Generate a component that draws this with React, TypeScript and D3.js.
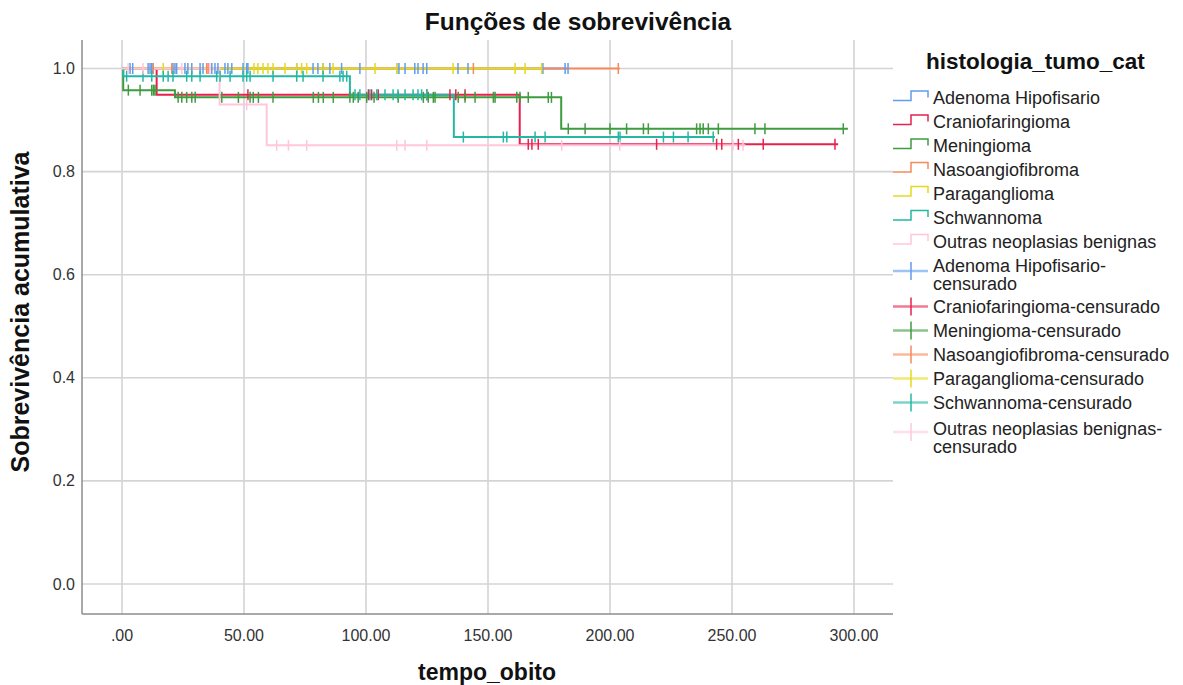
import React from "react";
import * as d3 from "d3";

const W = 1183;
const H = 685;

const xTicks = [0, 50, 100, 150, 200, 250, 300];
const xTickLabels = [".00", "50.00", "100.00", "150.00", "200.00", "250.00", "300.00"];
const yTicks = [0, 0.2, 0.4, 0.6, 0.8, 1.0];
const yTickLabels = ["0.0", "0.2", "0.4", "0.6", "0.8", "1.0"];

const groupNames = [
  "Adenoma Hipofisario",
  "Craniofaringioma",
  "Meningioma",
  "Nasoangiofibroma",
  "Paraganglioma",
  "Schwannoma",
  "Outras neoplasias benignas",
];
const groupColors = ["#5f9ded", "#e8204d", "#3f9b3f", "#f7895a", "#e6d91c", "#24b8a4", "#ffc6dc"];

// event (drop) times and survival level after each drop
const eventTimes = [[], [14.2, 163], [0.5, 21.7, 180], [], [], [0.5, 93.4, 136], [40, 59.3]];
const eventLevels = [[], [0.949, 0.853], [0.958, 0.944, 0.883], [], [], [0.985, 0.949, 0.867], [0.93, 0.851]];
const endTimes = [182.8, 293.5, 297.5, 204, 172.5, 243, 255.5];

const censorAdenoma = [3.3, 4.4, 10.7, 11.5, 12.2, 12.8, 20.9, 21.7, 22.4, 25.8, 27, 28.6, 32, 33.2, 36.8, 38.1, 39.3, 42.2, 43.4, 45, 49.6, 51.1, 51.6, 71.6, 78.3, 80.3, 82.4, 85.2, 90, 97.5, 112.6, 113.5, 116, 120, 121.3, 123.4, 124.9, 137.7, 141.8, 172.5, 181.6, 182.8];
const censorCranio = [51.6, 101, 102.3, 105, 124.9, 134.4, 136.8, 140.6, 166.5, 168, 170.6, 219.1, 243.7, 245.8, 252.6, 262.8, 292.2];
const censorMeningioma = [2.6, 7.4, 12.2, 12.9, 13.5, 23, 24.5, 26.5, 28.6, 30, 40.9, 47.7, 52.5, 53.8, 55.9, 61.9, 78.4, 80.5, 82.5, 86.6, 93.4, 94.8, 96.8, 100.3, 103.3, 113.2, 123.5, 125.5, 127.6, 128.3, 137.8, 140.6, 144.7, 152.2, 152.9, 161.8, 163.1, 166.5, 174.7, 176, 182.9, 189.8, 200, 206.8, 213.7, 215.7, 235.5, 236.9, 238.2, 240.3, 244.4, 259.4, 263.5, 295.6];
const censorNaso = [12.8, 20.4, 34.7, 35.3, 144, 203.4];
const censorParag = [16.9, 54.1, 55.7, 57.8, 59.8, 61.9, 66.8, 71.6, 73.6, 75.7, 82.4, 86.5, 103.7, 112.6, 135.7, 161.1, 165.2, 172];
const censorSchwann = [1.9, 8.6, 12.2, 16.9, 18.9, 20.9, 26.5, 28.6, 32, 38.8, 40.2, 44.3, 49.6, 51.1, 52.5, 61.9, 71.6, 74.2, 82.4, 89.3, 90.6, 92.1, 95.5, 97.5, 101.6, 104.4, 107.8, 111.1, 113.1, 116, 119.3, 121.3, 122.8, 124.9, 139.9, 156.3, 157.7, 169.3, 173.4, 203.4, 204.1, 221.9, 226, 232, 242.3];
const censorOutras = [2.5, 8.6, 24.5, 36, 51.1, 63.4, 68.2, 75.7, 112.6, 116, 124.9, 180.2, 204, 250.4, 254.5];
const censorTimes = [censorAdenoma, censorCranio, censorMeningioma, censorNaso, censorParag, censorSchwann, censorOutras];

const legendTitle = "histologia_tumo_cat";
const censorSuffix = "-censurado";

const FONT = "'Liberation Sans', Arial, sans-serif";

function levelAt(g: number, t: number): number {
  let s = 1;
  const ts = eventTimes[g];
  for (let i = 0; i < ts.length; i++) {
    if (t >= ts[i]) s = eventLevels[g][i];
  }
  return s;
}

export default function App() {
  const x = d3.scaleLinear().domain([0, 300]).range([122, 854]);
  const y = d3.scaleLinear().domain([0, 1]).range([584, 68.5]);
  const left = 82, right = 893, top = 40, bottom = 614;

  const line = d3
    .line<[number, number]>()
    .x((d) => x(d[0]))
    .y((d) => y(d[1]))
    .curve(d3.curveStepAfter);

  const paths = groupNames.map((_, g) => {
    const pts: [number, number][] = [[0, 1]];
    eventTimes[g].forEach((t, i) => pts.push([t, eventLevels[g][i]]));
    const last = pts[pts.length - 1][1];
    pts.push([endTimes[g], last]);
    return line(pts) || "";
  });

  const stepRowsY = [97.5, 121.5, 145.5, 169, 193, 217, 241];
  const censorRows = [
    { y: 271, ty: 265, lines: ["Adenoma Hipofisario-", "censurado"] },
    { y: 306.5, ty: 306.5, lines: ["Craniofaringioma" + censorSuffix] },
    { y: 330.5, ty: 330.5, lines: ["Meningioma" + censorSuffix] },
    { y: 354.5, ty: 354.5, lines: ["Nasoangiofibroma" + censorSuffix] },
    { y: 378.5, ty: 378.5, lines: ["Paraganglioma" + censorSuffix] },
    { y: 402.5, ty: 402.5, lines: ["Schwannoma" + censorSuffix] },
    { y: 432, ty: 428, lines: ["Outras neoplasias benignas-", "censurado"] },
  ];

  return (
    <svg width={W} height={H} style={{ display: "block", position: "absolute", left: 0, top: 0, background: "#fff" }} fontFamily={FONT}>
      <rect x={0} y={0} width={W} height={H} fill="#fff" />
      {xTicks.map((t) => (
        <line key={"gx" + t} x1={x(t)} x2={x(t)} y1={top} y2={bottom} stroke="#d4d4d4" strokeWidth={1.6} />
      ))}
      {yTicks.map((t) => (
        <line key={"gy" + t} x1={left} x2={right} y1={y(t)} y2={y(t)} stroke="#d4d4d4" strokeWidth={1.6} />
      ))}
      <line x1={left} x2={left} y1={top} y2={bottom} stroke="#8c8c8c" strokeWidth={1.5} />
      <line x1={left} x2={right} y1={bottom} y2={bottom} stroke="#8c8c8c" strokeWidth={1.5} />
      {xTicks.map((t, i) => (
        <text key={"xl" + t} x={x(t)} y={641} textAnchor="middle" fontSize={16} fill="#333">
          {xTickLabels[i]}
        </text>
      ))}
      {yTicks.map((t, i) => (
        <text key={"yl" + t} x={75} y={y(t) + 5.5} textAnchor="end" fontSize={16} fill="#333">
          {yTickLabels[i]}
        </text>
      ))}
      {paths.map((d, g) => (
        <path key={"p" + g} d={d} fill="none" stroke={groupColors[g]} strokeWidth={2} />
      ))}
      {censorTimes.map((ts, g) =>
        ts.map((t, i) => {
          const cx = x(t);
          const cy = y(levelAt(g, t));
          return (
            <line key={"c" + g + "-" + i} x1={cx} x2={cx} y1={cy - 5.5} y2={cy + 5.5} stroke={groupColors[g]} strokeWidth={1.5} />
          );
        })
      )}
      <text x={578} y={30} textAnchor="middle" fontSize={24.5} fontWeight="bold" fill="#111">
        Funções de sobrevivência
      </text>
      <text x={487} y={680} textAnchor="middle" fontSize={23} fontWeight="bold" fill="#111">
        tempo_obito
      </text>
      <text transform={`translate(29,${312}) rotate(-90)`} textAnchor="middle" fontSize={25} fontWeight="bold" fill="#111">
        Sobrevivência acumulativa
      </text>
      <text x={926} y={69} fontSize={22.5} fontWeight="bold" fill="#111">
        {legendTitle}
      </text>
      {groupNames.map((n, g) => {
        const yy = stepRowsY[g];
        return (
          <g key={"ls" + g}>
            <path
              d={`M893,${yy + 3} H911 V${yy - 6.5} H928 V${yy}`}
              fill="none"
              stroke={groupColors[g]}
              strokeWidth={1.5}
            />
            <text x={933} y={yy + 6.5} fontSize={18} fill="#222">
              {n}
            </text>
          </g>
        );
      })}
      {censorRows.map((r, g) => (
        <g key={"lc" + g}>
          <line x1={893} x2={928} y1={r.y} y2={r.y} stroke={groupColors[g]} strokeWidth={2.5} strokeOpacity={0.6} />
          <line x1={911} x2={911} y1={r.y - 9} y2={r.y + 9} stroke={groupColors[g]} strokeWidth={1.5} />
          {r.lines.map((ln, k) => (
            <text key={k} x={933} y={r.ty + 6.5 + k * 18} fontSize={18} fill="#222">
              {ln}
            </text>
          ))}
        </g>
      ))}
    </svg>
  );
}
